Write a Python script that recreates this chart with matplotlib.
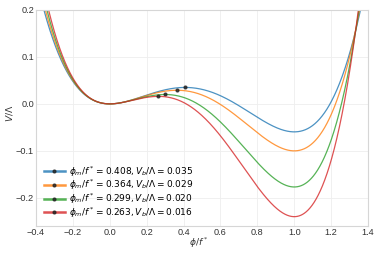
import numpy as np
import matplotlib
matplotlib.use("Agg")
import matplotlib.pyplot as plt

plt.rcParams['font.family'] = ['Liberation Sans', 'DejaVu Sans']
plt.rcParams['mathtext.fontset'] = 'dejavusans'

# Data (from legend): barrier location and height
phi_m = [0.408, 0.364, 0.299, 0.263]
V_b = [0.035, 0.029, 0.020, 0.016]
colors = ["#1f77b4", "#ff7f0e", "#2ca02c", "#d62728"]
xticks = [-0.4, -0.2, 0.0, 0.2, 0.4, 0.6, 0.8, 1.0, 1.2, 1.4]
yticks = [-0.2, -0.1, 0.0, 0.1, 0.2]

fig = plt.figure(figsize=(3.81, 2.54), dpi=100)
ax = fig.add_axes([0.0945, 0.11, 0.8715, 0.851])

phi = np.linspace(-0.4, 1.4, 1801)
for pm, vb, c in zip(phi_m, V_b, colors):
    # quartic potential with minima at 0 and 1, maximum at phi_m of height V_b
    k = vb * 12.0 / (pm ** 3 * (2.0 - pm))
    V = k * (phi ** 4 / 4 - (1 + pm) * phi ** 3 / 3 + pm * phi ** 2 / 2)
    idx = int(np.argmin(np.abs(phi - pm)))
    ax.plot(phi, V, color=c, lw=0.9, alpha=0.8, marker='o', markersize=2.0,
            markevery=[idx], markerfacecolor='#222222', markeredgecolor='#222222',
            label=rf"$\phi_m/f^* = {pm:.3f}, V_b/\Lambda = {vb:.3f}$")

ax.set_xlim(-0.4, 1.4)
ax.set_ylim(-0.26, 0.2)
ax.set_xticks(xticks)
ax.set_yticks(yticks)
ax.tick_params(labelsize=6.6, length=0, colors='#333333', pad=1.5)
ax.grid(True, color='#eeeeee', lw=0.6)
ax.set_axisbelow(True)
for s in ax.spines.values():
    s.set_color('#d6d6d6')
    s.set_linewidth(0.8)
ax.set_xlabel(r"$\phi/f^*$", fontsize=6.6, color='#333333')
ax.xaxis.set_label_coords(0.49, -0.045)
ax.set_ylabel(r"$V/\Lambda$", fontsize=6.6, color='#333333')
ax.yaxis.set_label_coords(-0.063, 0.52)
leg = ax.legend(loc='lower left', fontsize=6.5, frameon=False, handlelength=2.3,
                handletextpad=0.5, labelspacing=-0.08, borderaxespad=0.2,
                bbox_to_anchor=(0.008, 0.005))
for h in leg.get_lines():
    h.set_linewidth(1.8)
fig.savefig("out.png", dpi=100)
